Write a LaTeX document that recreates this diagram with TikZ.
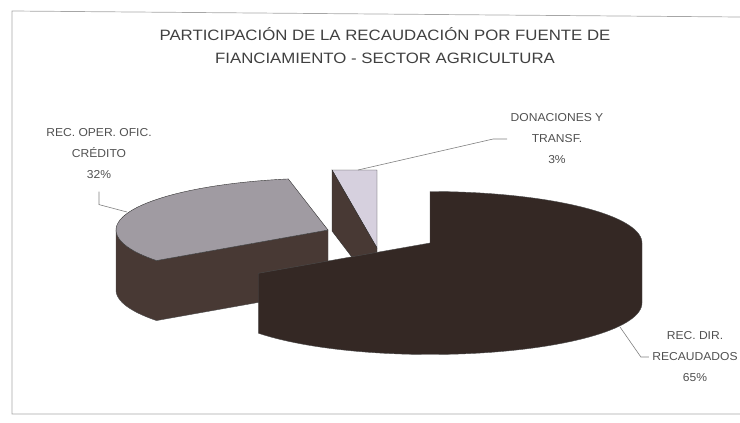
\documentclass[tikz,border=0pt]{standalone}
\usepackage{fontspec}
\setmainfont{Liberation Sans}
\newfontfamily\titlefont[FakeStretch=1.12]{Liberation Sans}
\newfontfamily\labelfont[FakeStretch=1.05]{Liberation Sans}
\definecolor{piedark}{RGB}{52,40,36}
\definecolor{wallbrown}{RGB}{72,57,52}
\definecolor{topgray}{RGB}{160,155,162}
\definecolor{toplilac}{RGB}{214,208,222}
\definecolor{inkgray}{RGB}{80,80,80}
\begin{document}
\begin{tikzpicture}[x=1pt,y=-1pt,
  lbl/.style={font=\labelfont\fontsize{11.5}{21}\selectfont,text=inkgray,align=center},
  leader/.style={draw=gray,line width=0.6pt},
  face/.style={draw=black!80,line width=0.4pt}]
\useasboundingbox (0,0) rectangle (740,423);
\draw[gray!70,line width=0.7pt] (740,17) -- (12,11) -- (12,414) -- (740,414);
\node (title) at (385,46) [font=\titlefont\fontsize{15}{23}\selectfont,text=black!75,align=center] {PARTICIPACIÓN DE LA RECAUDACIÓN POR FUENTE DE\\FIANCIAMIENTO - SECTOR AGRICULTURA};
% donaciones
\fill[toplilac,face] (332,170) -- (377,170) -- (377,248) -- cycle;
\fill[wallbrown,face] (332,170) -- (377,248) -- (377,290) -- (332,231) -- cycle;
% credito
\fill[wallbrown,draw=black!70,line width=0.4pt] plot[domain=180:216,samples=20] ({328+212*cos(\x)},{230-52*sin(\x)}) -- (328,230) -- (328,290) -- plot[domain=216:180,samples=20] ({328+212*cos(\x)},{290-52*sin(\x)}) -- cycle;
\fill[topgray,face] (328,230) -- plot[domain=100.8:216,samples=40] ({328+212*cos(\x)},{230-52*sin(\x)}) -- cycle;
% recaudados
\fill[piedark,draw=black!70,line width=0.4pt] (430,243) -- plot[domain=90:0,samples=40] ({430+212*cos(\x)},{243-51.5*sin(\x)}) -- plot[domain=0:-144,samples=60] ({430+212*cos(\x)},{303-51.5*sin(\x)}) -- ({430+212*cos(216)},{243-51.5*sin(216)}) -- cycle;
\coordinate (e32) at (127,212);
\coordinate (e3) at (358,170);
\coordinate (e65) at (620,327);
\node[lbl] (lbl32) at (99,154) {REC. OPER. OFIC.\\CRÉDITO\\32\%};
\node[lbl] (lbl3) at (557,139) {DONACIONES Y\\TRANSF.\\3\%};
\node[lbl] (lbl65) at (695,357) {REC. DIR.\\RECAUDADOS\\65\%};
\draw[leader] (lbl32.south) ++(0,9) -- ++(0,13) -- (e32);
\draw[leader] (lbl3.west) -- ++(-14,0) -- (e3);
\draw[leader] (lbl65.west) -- ++(-8,0) -- (e65);
\end{tikzpicture}
\end{document}
